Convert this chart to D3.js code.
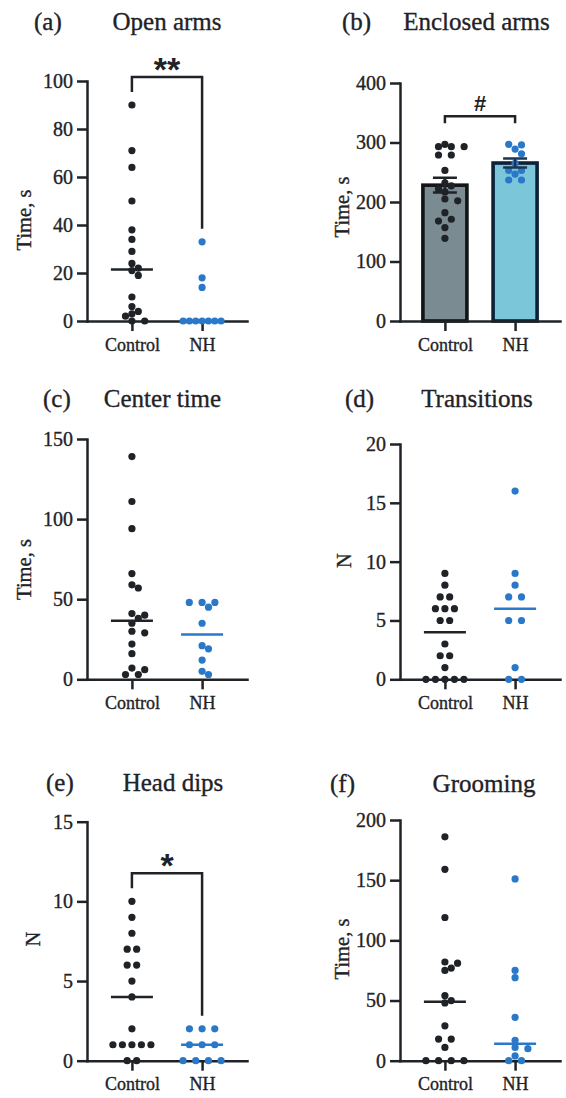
<!DOCTYPE html>
<html>
<head>
<meta charset="utf-8">
<script src="https://cdn.jsdelivr.net/npm/d3@7"></script>
<style>
  body { margin: 0; background: #fff; }
  svg { display: block; }
</style>
</head>
<body>
<div id="chart"></div>
<script>
// groups on the x axis
var groups = ["Control", "NH"];

// values, one array per group and panel
var openArmsControl = [90, 71, 64, 50, 38, 34, 29, 24, 22, 21, 19, 10, 6, 4, 3, 2, 0, 0];
var openArmsNH = [33, 18, 14, 0, 0, 0, 0, 0, 0, 0];
var enclosedControl = [297, 293, 293, 293, 279, 279, 253, 232, 227, 222, 217, 205, 202, 182, 171, 168, 157, 139];
var enclosedNH = [297, 296, 289, 281, 265, 253, 253, 247, 237, 237];
var centerControl = [139, 111, 94, 66, 59, 57, 41, 40, 38, 35, 30, 29, 22, 16, 7, 6, 3, 3];
var centerNH = [48, 48, 48, 45, 35, 21, 19, 12, 5, 3];
var transitionsControl = [9, 8, 7, 7, 6, 6, 6, 5, 5, 3, 2, 2, 1, 0, 0, 0, 0, 0];
var transitionsNH = [16, 9, 8, 7, 7, 5, 5, 1, 0, 0];
var headDipsControl = [10, 9, 8, 7, 7, 6, 6, 5, 4, 2, 1, 1, 1, 1, 1, 0, 0];
var headDipsNH = [2, 2, 2, 1, 1, 1, 0, 0, 0, 0];
var groomingControl = [186, 159, 119, 82, 81, 77, 75, 54, 50, 48, 29, 18, 18, 11, 0, 0, 0, 0];
var groomingNH = [151, 75, 69, 36, 17, 11, 10, 4, 0, 0];

// tick labels of each y axis
var openArmsTicks = [0, 20, 40, 60, 80, 100];
var enclosedTicks = [0, 100, 200, 300, 400];
var centerTicks = [0, 50, 100, 150];
var transitionsTicks = [0, 5, 10, 15, 20];
var headDipsTicks = [0, 5, 10, 15];
var groomingTicks = [0, 50, 100, 150, 200];

var W = 566, H = 1098;
var serif = "'Liberation Serif', 'Times New Roman', serif";
var ink = "#1f2327";
var blue = "#2a78c9";
var dotR = 3.6;
var lineW = 2.5;

var panels = [
    {tag: "(a)", title: "Open arms", yLabel: "Time, s", ticks: openArmsTicks, data: [openArmsControl, openArmsNH],
     kind: "scatter", sig: "**", sigFont: 34,
     x0: 87, y0: 321, y1: 81, tagX: 34, titleX: 167, titleY: 30, yTitleX: 31, yTitleY: 220},
    {tag: "(b)", title: "Enclosed arms", yLabel: "Time, s", ticks: enclosedTicks, data: [enclosedControl, enclosedNH],
     kind: "bar", sig: "#", sigFont: 22, legLen: 7,
     x0: 400, y0: 321, y1: 83, tagX: 342, titleX: 476.5, titleY: 30, yTitleX: 349, yTitleY: 207},
    {tag: "(c)", title: "Center time", yLabel: "Time, s", ticks: centerTicks, data: [centerControl, centerNH],
     kind: "scatter",
     x0: 87, y0: 679.3, y1: 439, tagX: 43, titleX: 162.5, titleY: 406.5, yTitleX: 31, yTitleY: 569.5},
    {tag: "(d)", title: "Transitions", yLabel: "N", ticks: transitionsTicks, data: [transitionsControl, transitionsNH],
     kind: "scatter",
     x0: 400, y0: 679.3, y1: 444, tagX: 345, titleX: 477, titleY: 406.5, yTitleX: 351, yTitleY: 560.5},
    {tag: "(e)", title: "Head dips", yLabel: "N", ticks: headDipsTicks, data: [headDipsControl, headDipsNH],
     kind: "scatter", sig: "*", sigFont: 34,
     x0: 87, y0: 1060.7, y1: 821.7, tagX: 46, titleX: 173, titleY: 790.5, yTitleX: 40, yTitleY: 939},
    {tag: "(f)", title: "Grooming", yLabel: "Time, s", ticks: groomingTicks, data: [groomingControl, groomingNH],
     kind: "scatter",
     x0: 400, y0: 1060.7, y1: 820, tagX: 330, titleX: 484, titleY: 791.5, yTitleX: 349, yTitleY: 949}
];

var svg = d3.select("#chart").append("svg")
    .attr("width", W)
    .attr("height", H)
    .style("background", "#fff");

//slightly heavier serif text, like the scanned figure
function serifText(sel, size) {
    return sel.style("font-family", serif)
        .style("font-size", size + "px")
        .style("fill", ink)
        .style("stroke", ink)
        .style("stroke-width", 0.35);
}

//prism-like scatter: equal values sit in a centred row, near values get pushed sideways
function swarm(values, y, cx, sMax) {
    var pts = values.map((v) => ({v: v, y: y(v)})).sort((a, b) => a.y - b.y);
    var rows = [];
    pts.forEach((p) => {
        var last = rows[rows.length - 1];
        if (last && Math.abs(last[0].y - p.y) < 1) last.push(p);
        else rows.push([p]);
    });
    var maxRow = d3.max(rows, (r) => r.length);
    var s = maxRow > 1 ? Math.min(sMax, 38 / (maxRow - 1)) : sMax;
    var h = s / 2;
    var minDist = 2 * dotR - 0.5;
    var placed = [];
    rows.forEach((row) => {
        var base = row.map((p, i) => (i - (row.length - 1) / 2) * s);
        for (var k = 0; k < 20; k++) {
            var shift = (k % 2 ? 1 : -1) * Math.ceil(k / 2) * h;
            var ok = row.every((p, i) => placed.every((q) =>
                Math.hypot(q.x - (cx + base[i] + shift), q.y - p.y) >= minDist));
            if (ok) {
                row.forEach((p, i) => { p.x = cx + base[i] + shift; placed.push(p); });
                break;
            }
        }
    });
    return placed;
}

panels.forEach((p) => {
    var g = svg.append("g");
    var yMax = p.ticks[p.ticks.length - 1];
    var y = d3.scaleLinear().domain([0, yMax]).range([p.y0, p.y1]);
    var x = d3.scalePoint().domain(groups).range([p.x0, p.x0 + 160]).padding(0.64);

    //titles
    serifText(g.append("text"), 25)
        .attr("x", p.tagX).attr("y", p.titleY)
        .text(p.tag);
    serifText(g.append("text"), 25)
        .attr("x", p.titleX).attr("y", p.titleY)
        .style("text-anchor", "middle")
        .text(p.title);

    //y axis title
    serifText(g.append("text"), 20.5)
        .attr("transform", "translate(" + p.yTitleX + "," + p.yTitleY + ") rotate(-90)")
        .style("text-anchor", "middle")
        .text(p.yLabel);

    //bars go under the axes
    if (p.kind == "bar") {
        var fills = ["#7a8c92", "#7cc6da"];
        var strokes = ["#121416", "#0b2238"];
        p.data.forEach((vals, i) => {
            var m = d3.mean(vals);
            var sem = d3.deviation(vals) / Math.sqrt(vals.length);
            var cx = x(groups[i]);
            g.append("rect")
                .attr("x", cx - 22).attr("width", 44)
                .attr("y", y(m)).attr("height", y(0) - y(m))
                .style("fill", fills[i]).style("stroke", strokes[i]).style("stroke-width", 3.6);
            vals.errBar = {m: m, sem: sem, cx: cx, color: i == 0 ? ink : "#1d3550"};
        });
    }

    //axes
    var yAxis = g.append("g")
        .attr("transform", "translate(" + p.x0 + ",0)")
        .call(d3.axisLeft(y).tickValues(p.ticks).tickSize(10).tickSizeOuter(0).tickPadding(4));
    var xAxis = g.append("g")
        .attr("transform", "translate(0," + p.y0 + ")")
        .call(d3.axisBottom(x).tickSize(10).tickSizeOuter(0).tickPadding(7));
    [yAxis, xAxis].forEach((a) => {
        a.selectAll("path, line").style("stroke", ink).style("stroke-width", lineW);
        a.select(".domain").style("stroke-linecap", "square");
    });
    serifText(yAxis.selectAll("text"), 20);
    serifText(xAxis.selectAll("text"), 18);

    //median lines
    if (p.kind == "scatter") {
        p.data.forEach((vals, i) => {
            var cx = x(groups[i]);
            g.append("line")
                .attr("x1", cx - 21).attr("x2", cx + 21)
                .attr("y1", y(d3.median(vals))).attr("y2", y(d3.median(vals)))
                .style("stroke", i == 0 ? ink : blue).style("stroke-width", lineW);
        });
    }

    //dots
    p.data.forEach((vals, i) => {
        var pts = swarm(vals, y, x(groups[i]), 12.8);
        g.append("g").selectAll("circle")
            .data(pts)
            .enter().append("circle")
            .attr("cx", (d) => d.x)
            .attr("cy", (d) => d.y)
            .attr("r", dotR)
            .style("fill", i == 0 ? ink : blue);
    });

    //error bars on top
    if (p.kind == "bar") {
        p.data.forEach((vals) => {
            var e = vals.errBar;
            var top = y(e.m + e.sem), bot = y(e.m - e.sem);
            g.append("path")
                .attr("d", "M" + e.cx + "," + top + "V" + bot +
                    "M" + (e.cx - 12) + "," + top + "H" + (e.cx + 12) +
                    "M" + (e.cx - 12) + "," + bot + "H" + (e.cx + 12))
                .style("fill", "none").style("stroke", e.color).style("stroke-width", lineW);
        });
    }

    //significance bracket
    if (p.sig) {
        var xa = x(groups[0]), xb = x(groups[1]);
        var maxA = y(d3.max(p.data[0])), maxB = y(d3.max(p.data[1]));
        var top = Math.min(maxA, maxB) - 28;
        var legA = p.legLen ? top + p.legLen : maxA - 13;
        var legB = p.legLen ? top + p.legLen : maxB - 13;
        g.append("path")
            .attr("d", "M" + xa + "," + legA + "V" + top + "H" + xb + "V" + legB)
            .style("fill", "none").style("stroke", ink).style("stroke-width", lineW);
        var midY = p.sig == "#" ? top - 13 : top - 16;
        g.append("text")
            .attr("x", (xa + xb) / 2)
            .attr("y", midY + (p.sig == "#" ? 0.36 : 0.58) * p.sigFont)
            .style("font-family", "'Liberation Sans', Arial, sans-serif")
            .style("font-weight", "bold")
            .style("font-size", p.sigFont + "px")
            .style("text-anchor", "middle")
            .style("fill", ink)
            .text(p.sig);
    }
});
</script>
</body>
</html>
